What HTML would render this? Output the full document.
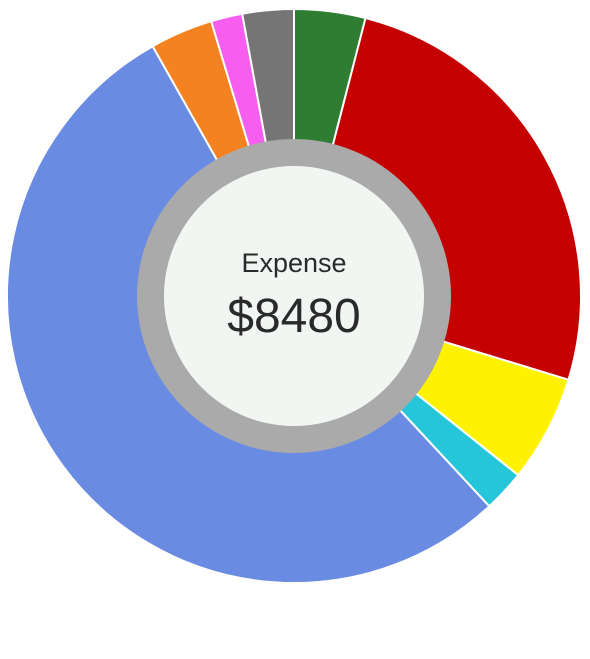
<!DOCTYPE html>
<html><head><meta charset="utf-8"><style>
html,body{margin:0;padding:0;background:#fff;width:590px;height:659px;overflow:hidden}
svg{display:block}
text{font-family:"Comic Sans MS","Liberation Sans",sans-serif;fill:#2a2a2a}
</style></head><body>
<svg id="chart" width="590" height="659">
<g id="slices"></g>
<circle cx="294" cy="296" r="157" fill="#aaaaaa"/>
<circle cx="294" cy="296" r="130" fill="#f2f6f2"/>
<text x="294" y="272" text-anchor="middle" font-size="27">Expense</text>
<text id="total" x="294" y="332" text-anchor="middle" font-size="48">$8480</text>
</svg>
<script>
const categories = ["Green","Red","Yellow","Cyan","Blue","Orange","Pink","Gray"];
const values = [340,2180,510,200,4555,300,150,245];
const colors = ["#2e7d32","#c40000","#fff200","#26c6da","#6a8be2","#f58220","#f75ef0","#757575"];
const cx=294, cy=296, R=287, r=150;
const total = values.reduce((a,b)=>a+b,0);
document.getElementById('total').textContent = '$' + total;
const g=document.getElementById('slices');
const ns='http://www.w3.org/2000/svg';
function pt(a,rad){return [cx+rad*Math.sin(a), cy-rad*Math.cos(a)];}
let acc=0;
values.forEach((v,i)=>{
  const a0=acc/total*2*Math.PI; acc+=v; const a1=acc/total*2*Math.PI;
  const large=(a1-a0)>Math.PI?1:0;
  const p0=pt(a0,R),p1=pt(a1,R),q1=pt(a1,r),q0=pt(a0,r);
  const p=document.createElementNS(ns,'path');
  p.setAttribute('d',`M${p0[0]},${p0[1]} A${R},${R} 0 ${large} 1 ${p1[0]},${p1[1]} L${q1[0]},${q1[1]} A${r},${r} 0 ${large} 0 ${q0[0]},${q0[1]} Z`);
  p.setAttribute('fill',colors[i]);
  p.setAttribute('stroke','#fff');
  p.setAttribute('stroke-width','2');
  
  
  g.appendChild(p);
});
</script>
</body></html>
